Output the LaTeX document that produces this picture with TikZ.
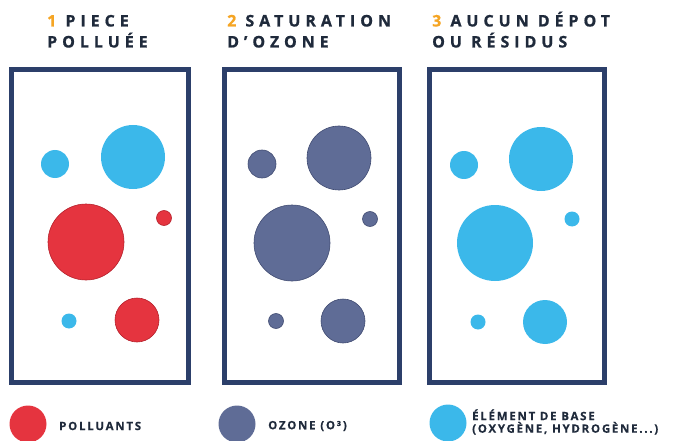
\documentclass[tikz,border=0pt]{standalone}
\usepackage{fontspec}
\setmainfont{Open Sans}
\newfontfamily\titlefont[LetterSpace=31,FakeBold=0.8]{Open Sans Bold}
\newfontfamily\legfont[LetterSpace=15,FakeBold=0.3]{Open Sans Bold}
\definecolor{redc}{HTML}{E5343F}
\definecolor{rededge}{HTML}{B5202B}
\definecolor{ozc}{HTML}{5F6C96}
\definecolor{ozedge}{HTML}{414C72}
\definecolor{bluec}{HTML}{3BB8EA}
\definecolor{framec}{HTML}{2C3F6A}
\definecolor{numc}{HTML}{F5A524}
\definecolor{txtc}{HTML}{1F2A3B}
\begin{document}
\begin{tikzpicture}[x=1pt,y=-1pt,
  framebox/.style={draw=framec,line width=5pt},
  pol/.style={circle,fill=redc,draw=rededge,line width=0.6pt,inner sep=0pt,minimum size=#1},
  oz/.style={circle,fill=ozc,draw=ozedge,line width=0.6pt,inner sep=0pt,minimum size=#1},
  base/.style={circle,fill=bluec,inner sep=0pt,minimum size=#1},
  ttl/.style={anchor=base west,inner sep=0pt,font=\titlefont\fontsize{16}{18}\selectfont,text=txtc},
  leg/.style={anchor=west,inner sep=0pt,font=\legfont\fontsize{11.5}{12.5}\selectfont,text=txtc,align=left}]
\useasboundingbox (0,0) rectangle (680,441);
% titles
\node[ttl] (t1a) at (47,26.5) {\textcolor{numc}{1} PIECE};
\node[ttl] (t1b) at (47,47.5) {POLLUÉE};
\node[ttl] (t2a) at (227,26.5) {\textcolor{numc}{2} SATURATION};
\node[ttl] (t2b) at (227,47.5) {D’OZONE};
\node[ttl] (t3a) at (432,26.5) {\textcolor{numc}{3} AUCUN DÉPOT};
\node[ttl] (t3b) at (432,47.5) {OU RÉSIDUS};
% frames
\draw[framebox] (11.5,69.5) rectangle (188.5,382.5);
\draw[framebox] (224.5,69.5) rectangle (399.5,382.5);
\draw[framebox] (429.5,69.5) rectangle (604.5,382.5);
% panel 1
\node[base=28pt] (a1) at (55,164) {};
\node[base=64pt] (a2) at (133,157) {};
\node[pol=76pt] (a3) at (86,242) {};
\node[pol=15pt] (a4) at (164,218) {};
\node[base=15pt] (a5) at (69,321) {};
\node[pol=44pt] (a6) at (137,320) {};
% panel 2
\node[oz=28pt] (b1) at (262,164) {};
\node[oz=64pt] (b2) at (339,158) {};
\node[oz=76pt] (b3) at (292,243) {};
\node[oz=15pt] (b4) at (370,219) {};
\node[oz=15pt] (b5) at (276,321) {};
\node[oz=44pt] (b6) at (343,321) {};
% panel 3
\node[base=28pt] (c1) at (464,165) {};
\node[base=64pt] (c2) at (541,159) {};
\node[base=76pt] (c3) at (495,243) {};
\node[base=15pt] (c4) at (572,219) {};
\node[base=15pt] (c5) at (478,322) {};
\node[base=44pt] (c6) at (545,322) {};
% legend
\node[pol=37pt,draw=none] (l1) at (28,424) {};
\node[leg] (lt1) at (59,426) {POLLUANTS};
\node[oz=37pt,draw=none] (l2) at (237,424) {};
\node[leg] (lt2) at (268,426) {OZONE (O³)};
\node[base=37pt] (l3) at (448,423) {};
\node[leg] (lt3) at (472,422) {ÉLÉMENT DE BASE\\(OXYGÈNE, HYDROGÈNE...)};
\end{tikzpicture}
\end{document}
